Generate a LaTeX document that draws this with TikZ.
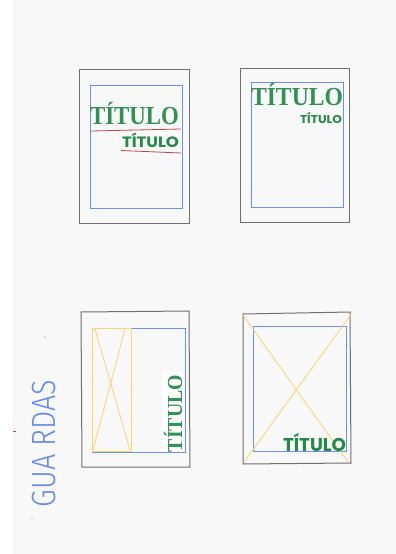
\documentclass[tikz,border=0pt]{standalone}
\usepackage{fontspec}
\setmainfont{Liberation Serif}
\newfontfamily\boldsans{Poppins}
\newfontfamily\handfont{Fira Sans Light}
\usepackage{graphicx}
\definecolor{pagebg}{RGB}{248,248,248}
\definecolor{pencil}{RGB}{110,110,110}
\definecolor{marginblue}{RGB}{110,145,240}
\definecolor{gridyellow}{RGB}{250,210,110}
\definecolor{titlegreen}{RGB}{35,138,70}
\definecolor{serifgreen}{RGB}{50,145,84}
\definecolor{redline}{RGB}{195,70,70}
\definecolor{handblue}{RGB}{100,140,235}
% fit text to width #1 and cap height #2 (in pt)
\newcommand{\fittext}[4]{\resizebox{#1pt}{#2pt}{#3\smash{#4}\vphantom{T}}}
\tikzset{
  outerpage/.style={draw=pencil, line width=1pt},
  marginbox/.style={draw=marginblue, line width=0.8pt},
  gridbox/.style={draw=gridyellow, line width=0.8pt},
  underline/.style={draw=redline, line width=0.8pt},
  fitnode/.style={inner sep=0pt, outer sep=0pt, anchor=base west},
}
\begin{document}
\begin{tikzpicture}[x=1pt,y=-1pt]
\useasboundingbox (0,0) rectangle (396,554);
\fill[white] (0,0) rectangle (396,554);
\fill[pagebg] (13,0) rectangle (396,554);

% ---------- panel 1 ----------
\draw[outerpage] (79,69) rectangle (189,223);
\draw[marginbox] (90,85) rectangle (182,208);
\node[fitnode, text=serifgreen] (p1big) at (90,124.5) {\fittext{89}{17}{\bfseries}{TÍTULO}};
\node[fitnode, text=titlegreen] (p1small) at (122,147) {\fittext{57}{10.5}{\boldsans\bfseries}{TÍTULO}};
\coordinate (r1a) at (91,131);
\coordinate (r1b) at (181,129);
\coordinate (r2a) at (121,150.5);
\coordinate (r2b) at (181,153);
\draw[underline] (r1a) -- (r1b);
\draw[underline] (r2a) -- (r2b);

% ---------- panel 2 ----------
\draw[outerpage] (240,68) rectangle (349,222);
\draw[marginbox] (251,82) rectangle (343,207);
\node[fitnode, text=serifgreen] (p2big) at (251,105) {\fittext{92}{17}{\bfseries}{TÍTULO}};
\node[fitnode, text=titlegreen] (p2small) at (300,123.5) {\fittext{42}{8}{\boldsans\bfseries}{TÍTULO}};

% ---------- panel 3 ----------
\draw[outerpage] (81,312) -- (189,311) -- (190,467) -- (82,467) -- cycle;
\fill[white] (162,372) rectangle (184,452);
\draw[marginbox] (92,328) rectangle (185,452);
\draw[gridbox] (92,328) rectangle (131,451);
\coordinate (y3a) at (95,329);
\coordinate (y3b) at (130,450);
\coordinate (y3c) at (125,329);
\coordinate (y3d) at (93,450);
\draw[gridbox] (y3a) -- (y3b);
\draw[gridbox] (y3c) -- (y3d);
\node[fitnode, text=serifgreen, rotate=90] (p3vert) at (182,452) {\fittext{77}{14}{\bfseries}{TÍTULO}};

% ---------- panel 4 ----------
\draw[outerpage] (243,314) -- (350,312) -- (351,463) -- (243,464) -- cycle;
\draw[marginbox] (253,326) rectangle (346,451);
\coordinate (y4a) at (243,315);
\coordinate (y4b) at (348,462);
\coordinate (y4c) at (352,313);
\coordinate (y4d) at (244,462);
\draw[gridbox] (y4a) -- (y4b);
\draw[gridbox] (y4c) -- (y4d);
\node[fitnode, text=titlegreen] (p4title) at (283,451.5) {\fittext{63}{13}{\boldsans\bfseries}{TÍTULO}};

% ---------- handwritten label ----------
\node[fitnode, text=handblue, rotate=90] (guardas) at (55,507) {\fittext{127}{23}{\handfont}{GUA RDAS}};
\fill[handblue] (45,337) circle (0.7);
\fill[handblue] (32,518) circle (0.7);
\draw[redline, line width=0.8pt] (13,431) -- (16,431);
\end{tikzpicture}
\end{document}
